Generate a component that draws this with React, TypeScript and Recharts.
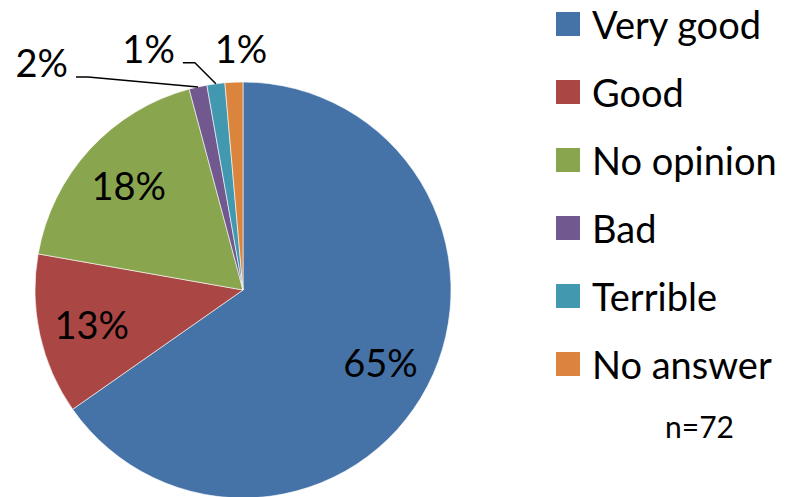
import { PieChart, Pie, Cell, Legend } from "recharts";

const categories = ["Very good", "Good", "No opinion", "Bad", "Terrible", "No answer"];
// respondent counts (n=72)
const counts = [47, 9, 13, 1, 1, 1];
const percentLabels = ["65%", "13%", "18%", "2%", "1%", "1%"];
const colors = ["#4572A7", "#AA4643", "#89A54E", "#71588F", "#4198AF", "#DB843D"];
const sampleNote = "n=72";

const data = categories.map((name, i) => ({ name, value: counts[i], label: percentLabels[i] }));

const RADIAN = Math.PI / 180;
const FONT = "Lato, 'Open Sans', sans-serif";

// callout placement for the thin slices (relative to the slice's outer edge point)
const callouts: Record<number, { dx: number; dy: number; tail?: number; line: boolean }> = {
  3: { dx: -110, dy: -10, tail: 12, line: true },
  4: { dx: -21, dy: -21, tail: 12, line: true },
  5: { dx: 7, dy: -19, line: false },
};

function renderLabel(props: any) {
  const { cx, cy, midAngle, outerRadius, index, payload } = props;
  const text = payload?.label ?? percentLabels[index];
  const cos = Math.cos(-midAngle * RADIAN);
  const sin = Math.sin(-midAngle * RADIAN);
  const c = callouts[index];
  if (!c) {
    const r = outerRadius * 0.745;
    return (
      <text x={cx + r * cos} y={cy + r * sin} textAnchor="middle" dominantBaseline="central" fill="#000" fontSize={38} fontFamily={FONT}>
        {text}
      </text>
    );
  }
  const px = cx + outerRadius * cos;
  const py = cy + outerRadius * sin;
  const ex = px + c.dx;
  const ey = py + c.dy;
  if (!c.line) {
    return (
      <text x={ex} y={ey} textAnchor="middle" fill="#000" fontSize={38} fontFamily={FONT}>
        {text}
      </text>
    );
  }
  const tx = ex - (c.tail ?? 0);
  return (
    <g>
      <polyline points={`${px},${py} ${ex},${ey} ${tx},${ey}`} fill="none" stroke="#000" strokeWidth={1.5} />
      <text x={tx - 8} y={ey} textAnchor="end" fill="#000" fontSize={38} fontFamily={FONT}>
        {text}
      </text>
    </g>
  );
}

function renderLegend(props: any) {
  const payload = [...(props.payload ?? [])].sort(
    (a: any, b: any) => categories.indexOf(a.value) - categories.indexOf(b.value)
  );
  return (
    <div style={{ fontFamily: FONT, color: "#000" }}>
      {payload.map((entry: any) => (
        <div key={entry.value} style={{ display: "flex", alignItems: "center", height: 68 }}>
          <span style={{ width: 24, height: 24, background: entry.color, marginRight: 12, display: "inline-block" }} />
          <span style={{ fontSize: 38, lineHeight: "38px" }}>{entry.value}</span>
        </div>
      ))}
      <div style={{ fontSize: 30, paddingLeft: 109, marginTop: 10 }}>{sampleNote}</div>
    </div>
  );
}

export default function App() {
  return (
    <div style={{ position: "absolute", left: 0, top: 0, width: 798, height: 497, background: "#fff" }}>
      <PieChart width={798} height={497} margin={{ top: 0, right: 0, bottom: 0, left: 0 }}>
        <Pie
          data={data}
          dataKey="value"
          nameKey="name"
          cx={243}
          cy={290}
          outerRadius={208}
          startAngle={90}
          endAngle={-270}
          stroke="#fff"
          strokeWidth={0.6}
          label={renderLabel}
          labelLine={false}
          isAnimationActive={false}
        >
          {data.map((d, i) => (
            <Cell key={d.name} fill={colors[i]} />
          ))}
        </Pie>
        <Legend
          layout="vertical"
          align="right"
          verticalAlign="top"
          itemSorter={null as any}
          content={renderLegend}
          wrapperStyle={{ position: "absolute", left: 556, top: -10, width: 242 }}
        />
      </PieChart>
    </div>
  );
}
